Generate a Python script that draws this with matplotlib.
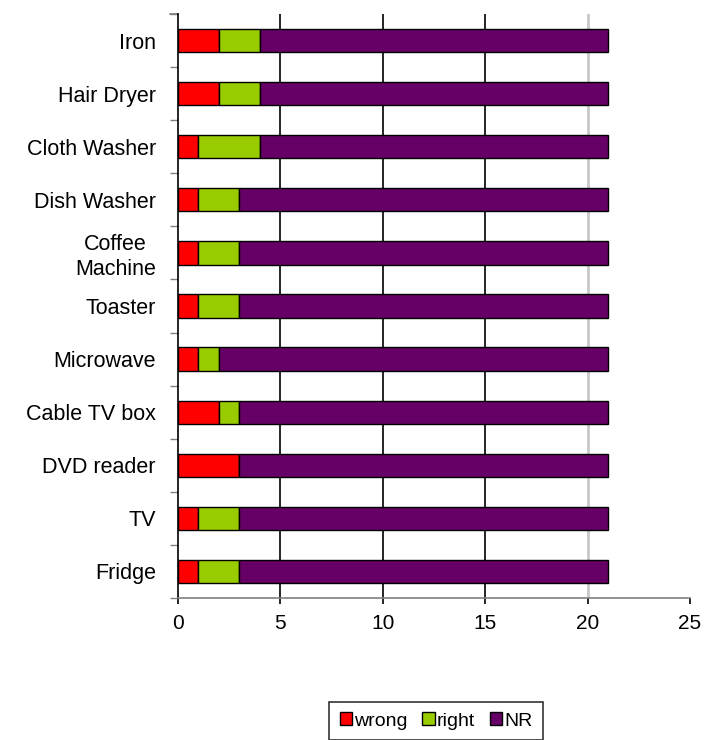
import numpy as np
import matplotlib.pyplot as plt

plt.rcParams['font.family'] = ['Liberation Sans', 'DejaVu Sans']

# appliance answers, listed top to bottom
appliances = ["Iron", "Hair Dryer", "Cloth Washer", "Dish Washer", "Coffee\nMachine",
              "Toaster", "Microwave", "Cable TV box", "DVD reader", "TV", "Fridge"]
wrong = [2, 2, 1, 1, 1, 1, 1, 2, 3, 1, 1]
right = [2, 2, 3, 2, 2, 2, 1, 1, 0, 2, 2]
nr = [17, 17, 17, 18, 18, 18, 19, 18, 18, 18, 18]

colors = {"wrong": "#FF0000", "right": "#99CC00", "NR": "#660066"}

fig = plt.figure(figsize=(7.19, 7.40), dpi=100)
ax = fig.add_axes([178 / 719, 1 - 598 / 740, 512 / 719, 584 / 740])

y = np.arange(len(appliances))
wrong = np.array(wrong)
right = np.array(right)
nr = np.array(nr)

h = 0.44
ax.barh(y, wrong, height=h, color=colors["wrong"], edgecolor="black", linewidth=1, label="wrong", zorder=3)
ax.barh(y, right, left=wrong, height=h, color=colors["right"], edgecolor="black", linewidth=1, label="right", zorder=3)
ax.barh(y, nr, left=wrong + right, height=h, color=colors["NR"], edgecolor="black", linewidth=1, label="NR", zorder=3)

ax.set_xlim(0, 25)
ax.set_ylim(len(appliances) - 0.5, -0.5)

# vertical grid
for v in [5, 10, 15]:
    ax.axvline(v, color="black", linewidth=1.2, zorder=1)
ax.axvline(20, color="#c8c8c8", linewidth=2, zorder=1)

ax.set_xticks([0, 5, 10, 15, 20, 25])
ax.tick_params(axis="x", direction="out", length=4.5, width=1.2, color="black", labelsize=15, pad=7)

ax.set_yticks(y)
ax.set_yticklabels(appliances, fontsize=15.5, multialignment="center")
ax.tick_params(axis="y", length=0, pad=16)
ax.set_yticks(np.arange(len(appliances) + 1) - 0.5, minor=True)
ax.tick_params(axis="y", which="minor", length=6, width=1, color="#808080", direction="out")

for s in ["top", "right"]:
    ax.spines[s].set_visible(False)
ax.spines["left"].set_color("black")
ax.spines["left"].set_linewidth(1.2)
ax.spines["bottom"].set_color("#808080")
ax.spines["bottom"].set_linewidth(1.2)
# bottom axis line runs a little past zero on the left
ax.plot([-0.4, 0], [1, 1], transform=ax.get_xaxis_transform(), color="#808080",
        linewidth=1.2, clip_on=False)

leg = fig.legend(loc="upper center", bbox_to_anchor=(436 / 719, 1 - 692 / 740), ncol=3,
                 frameon=True, fancybox=False, edgecolor="black", fontsize=14,
                 handlelength=0.65, handleheight=0.65, handletextpad=0.1, columnspacing=0.75,
                 borderpad=0.55)
leg.get_frame().set_linewidth(1.2)

fig.savefig("out.png", dpi=100)
